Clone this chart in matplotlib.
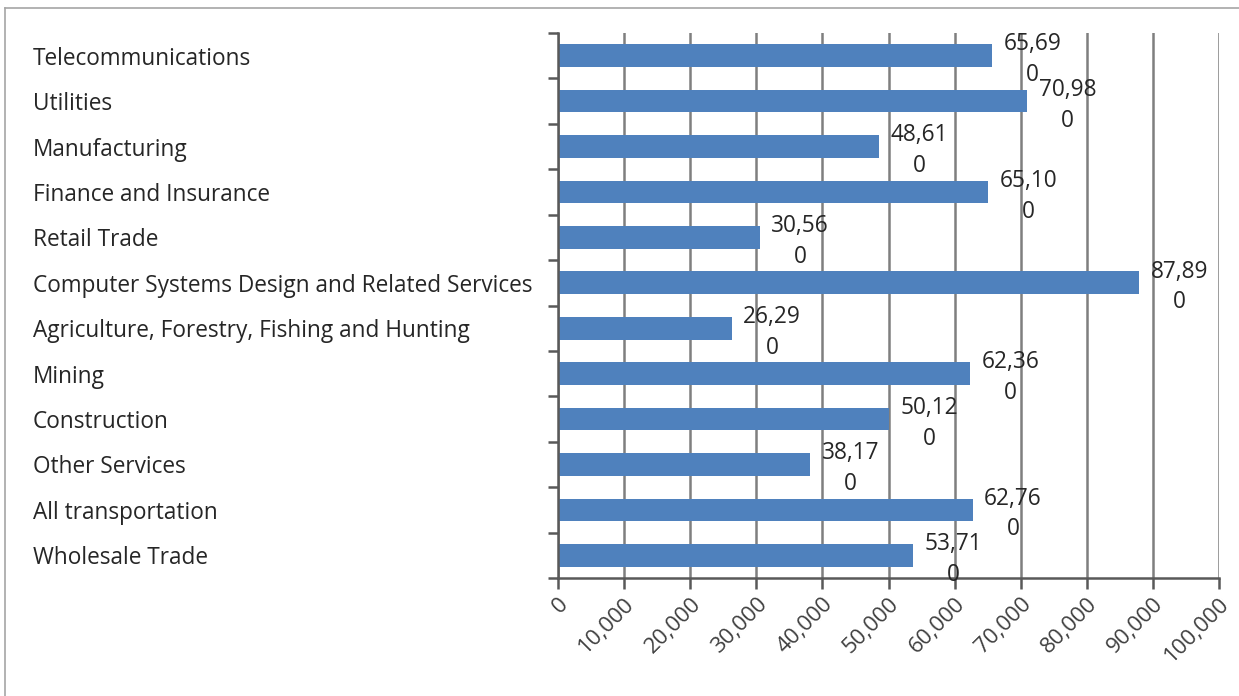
import matplotlib
matplotlib.use("Agg")
import matplotlib.pyplot as plt
from matplotlib.lines import Line2D
from matplotlib.ticker import FuncFormatter
import matplotlib.transforms as mtransforms

categories = ["Telecommunications", "Utilities", "Manufacturing", "Finance and Insurance",
              "Retail Trade", "Computer Systems Design and Related Services",
              "Agriculture, Forestry, Fishing and Hunting", "Mining", "Construction",
              "Other Services", "All transportation", "Wholesale Trade"]
values = [65690, 70980, 48610, 65100, 30560, 87890, 26290, 62360, 50120, 38170, 62760, 53710]
xticks = [0, 10000, 20000, 30000, 40000, 50000, 60000, 70000, 80000, 90000, 100000]

plt.rcParams['font.family'] = ['Open Sans', 'DejaVu Sans']
W, H = 1239, 696
fig = plt.figure(figsize=(W/100, H/100), dpi=100)
ax = fig.add_axes([558/W, 1-578/H, (1219-558)/W, (578-33)/H])

n = len(categories)
ypos = list(range(n))
ax.barh(ypos, values, height=0.5, color='#4f81bd', zorder=2)
ax.set_ylim(n-0.5, -0.5)
ax.set_xlim(0, 100000)

grid_c = '#7f7f7f'
ax.set_xticks(xticks)
ax.xaxis.set_major_formatter(FuncFormatter(lambda v, p: f"{int(v):,}"))
ax.grid(axis='x', color=grid_c, linewidth=1.8, zorder=0)
ax.set_axisbelow(True)
ax.tick_params(axis='x', direction='out', length=8, width=1.8, color='#595959',
               labelsize=16, labelcolor='#404040', pad=3)
for lab in ax.get_xticklabels():
    lab.set_rotation(45)
    lab.set_ha('right')
    lab.set_va('top')
    lab.set_rotation_mode('anchor')

ax.set_yticks([i-0.5 for i in range(n+1)])
ax.set_yticklabels([])
ax.tick_params(axis='y', direction='out', length=7, width=1.8, color='#595959')

for s in ['top', 'right']:
    ax.spines[s].set_visible(False)
for s in ['left', 'bottom']:
    ax.spines[s].set_color('#595959')
    ax.spines[s].set_linewidth(1.8)

trans = mtransforms.blended_transform_factory(fig.transFigure, ax.transData)
for i, c in enumerate(categories):
    ax.text(33/W, i, c, transform=trans, ha='left', va='center_baseline', fontsize=16.3, color='#262626')

for i, v in enumerate(values):
    s = f"{v:,}"
    lab = s[:-1] + "\n" + s[-1]
    ax.annotate(lab, xy=(v, i), xytext=(29, -3), textcoords='offset points',
                ha='center', va='center', multialignment='center', fontsize=16.3,
                color='#262626', linespacing=1.38, zorder=3, annotation_clip=False)

fig.add_artist(Line2D([5/W, 1], [1-8/H, 1-8/H], transform=fig.transFigure, color='#a6a6a6', lw=1.2))
fig.add_artist(Line2D([5/W, 5/W], [0, 1-8/H], transform=fig.transFigure, color='#a6a6a6', lw=1.2))

fig.savefig("out.png", dpi=100)
